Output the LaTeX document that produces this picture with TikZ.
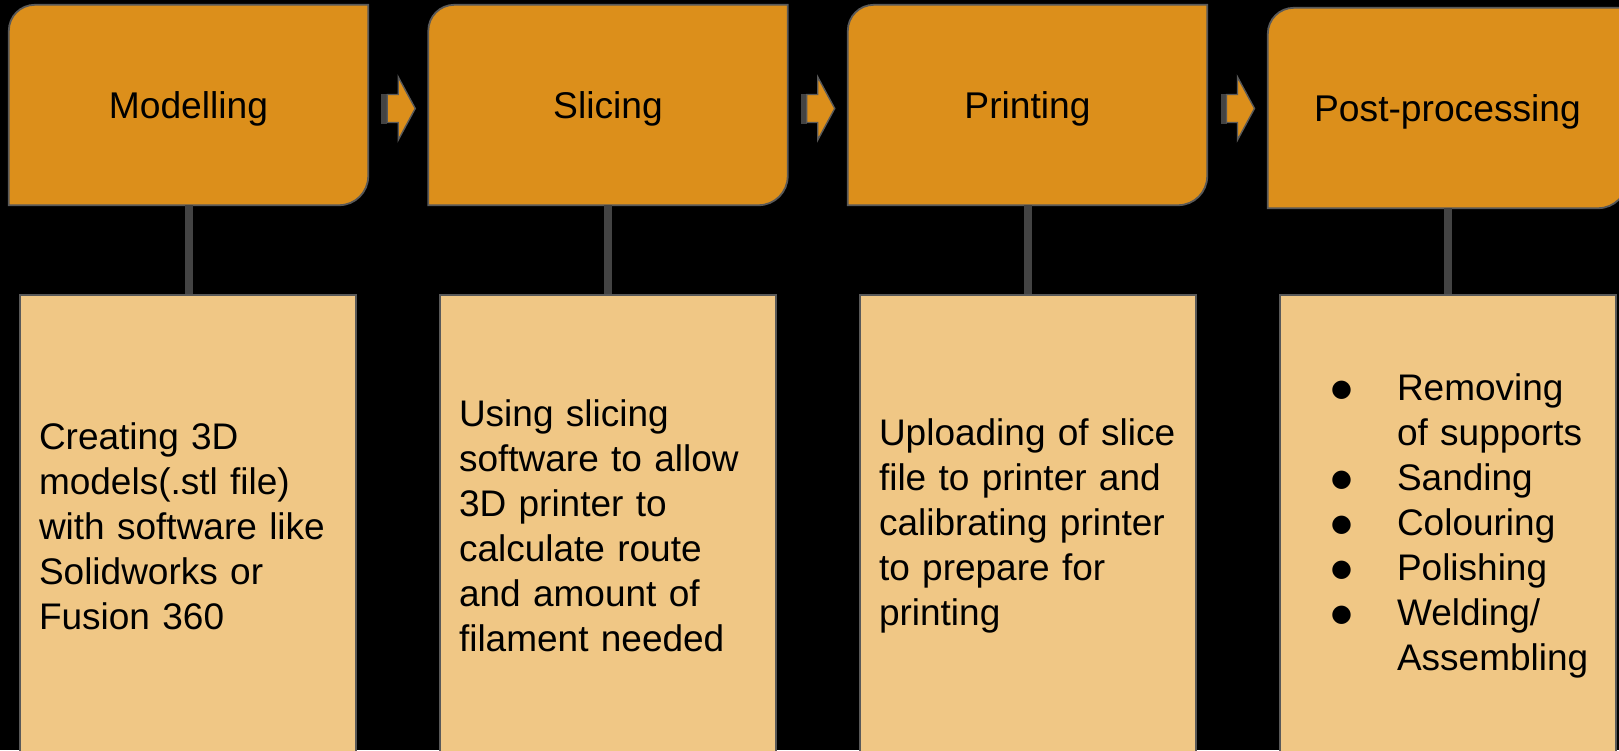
\documentclass[tikz,border=0pt]{standalone}
\usepackage{fontspec}
\setmainfont{Liberation Sans}
\newfontfamily\symfont{DejaVu Sans}
\usetikzlibrary{calc,backgrounds}

\definecolor{stagefill}{HTML}{DC8F1B}
\definecolor{notefill}{HTML}{F0C785}
\definecolor{edgegray}{HTML}{595959}
\definecolor{linkgray}{HTML}{434343}

\newcommand{\bul}{\raisebox{3.5pt}{\symfont\fontsize{24}{24}\selectfont ●}}

\tikzset{
  stagebox/.style={draw=none, minimum width=359pt, minimum height=200pt,
    inner sep=0pt, text height=27pt, text depth=0pt,
    font=\fontsize{37.2}{45}\selectfont},
  stageedge/.style={fill=stagefill, draw=edgegray, line width=1.8pt},
  notebox/.style={draw=edgegray, fill=notefill, line width=1.8pt,
    anchor=north, minimum height=462pt, inner xsep=19pt, inner ysep=0pt,
    text width=298pt, align=left, font=\fontsize{37}{45}\selectfont},
  link/.style={draw=linkgray, line width=8pt},
  arrowbody/.style={fill=stagefill, draw=edgegray, line width=1.4pt, line join=miter},
  arrowstripe/.style={fill=linkgray, draw=none}
}

\begin{document}
\begin{tikzpicture}[x=1pt, y=-1pt]
  \clip (0,0) rectangle (1619,750);
  \useasboundingbox (0,0) rectangle (1619,750);

  % process stages
  \node[stagebox] (m1) at (188.5,105) {Modelling};
  \node[stagebox] (m2) at (608,105) {Slicing};
  \node[stagebox] (m3) at (1027.5,105) {Printing};
  \node[stagebox] (m4) at (1447.5,108) {Post-processing};

  % descriptions
  \node[notebox] (d1) at (188,294) {Creating 3D\\models(.stl file)\\with software like\\Solidworks or\\Fusion 360};
  \node[notebox] (d2) at (608,294) {Using slicing\\software to allow\\3D printer to\\calculate route\\and amount of\\filament needed};
  \node[notebox] (d3) at (1028,294) {Uploading of slice\\file to printer and\\calibrating printer\\to prepare for\\printing};
  \node[notebox] (d4) at (1448,294) {%
    \hspace*{32pt}\makebox[66pt][l]{\bul}Removing\\
    \hspace*{98pt}of supports\\
    \hspace*{32pt}\makebox[66pt][l]{\bul}Sanding\\
    \hspace*{32pt}\makebox[66pt][l]{\bul}Colouring\\
    \hspace*{32pt}\makebox[66pt][l]{\bul}Polishing\\
    \hspace*{32pt}\makebox[66pt][l]{\bul}Welding/\\
    \hspace*{98pt}Assembling};

  % stage outlines: rounded top-left and bottom-right corners
  \begin{scope}[on background layer]
    \fill[black] (0,0) rectangle (1619,750);
    \foreach \i in {1,2,3,4} {
      \draw[stageedge] (m\i.south west)
        -- ($(m\i.north west)+(0,26)$)
        .. controls ($(m\i.north west)+(0,11.6)$) and ($(m\i.north west)+(11.6,0)$) .. ($(m\i.north west)+(26,0)$)
        -- (m\i.north east)
        -- ($(m\i.south east)+(0,-29)$)
        .. controls ($(m\i.south east)+(0,-13)$) and ($(m\i.south east)+(-13,0)$) .. ($(m\i.south east)+(-29,0)$)
        -- cycle;
    }
  \end{scope}

  % vertical links
  \foreach \i in {1,2,3,4} {
    \draw[link] (m\i.south) -- (m\i.south |- d\i.north);
  }

  % block arrows between stages
  \coordinate (a1) at ($($(m1.east)!0.5!(m2.west)$)+(0,3.5)$);
  \coordinate (a2) at ($($(m2.east)!0.5!(m3.west)$)+(0,3.5)$);
  \coordinate (a3) at ($($(m3.east)!0.5!(m4.west)$)+(0,2)$);
  \foreach \a in {a1,a2,a3} {
    \begin{scope}[shift={(\a)}]
      \fill[arrowstripe] (-17,-15) rectangle (-11,15);
      \draw[arrowbody] (-11,-14) -- (0,-14) -- (0,-31.5) -- (17,0)
        -- (0,31.5) -- (0,14) -- (-11,14) -- cycle;
    \end{scope}
  }
\end{tikzpicture}
\end{document}
